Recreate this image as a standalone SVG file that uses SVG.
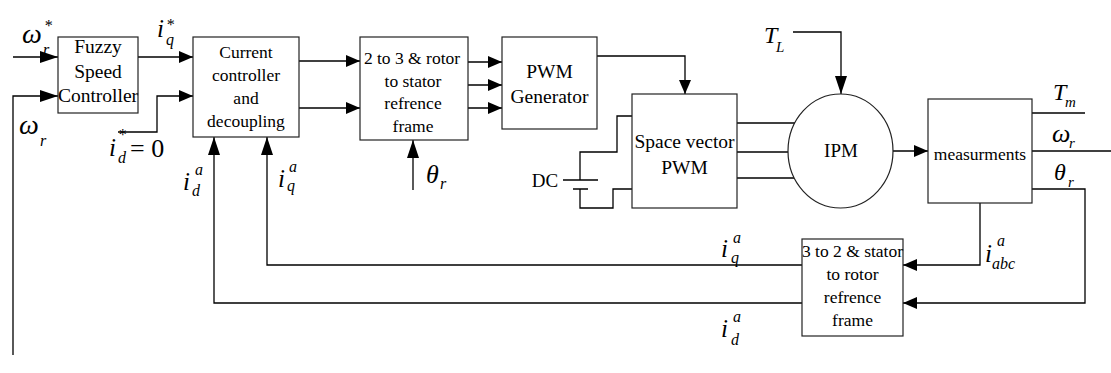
<svg xmlns="http://www.w3.org/2000/svg" width="1111" height="373" viewBox="0 0 1111 373">
<style>
.box{fill:#fff;stroke:#222;stroke-width:1.2}
.ln{fill:none;stroke:#000;stroke-width:1.3}
text{font-family:'Liberation Serif','Times New Roman',serif;fill:#000}
.t{text-anchor:middle}
.m{font-style:italic}
.s{font-size:16px}
</style>
<defs>
<marker id="ah" markerUnits="userSpaceOnUse" markerWidth="14" markerHeight="12" refX="14" refY="6" orient="auto"><path d="M0,0 L14,6 L0,12 z" fill="#000"/></marker>
<marker id="ahl" markerUnits="userSpaceOnUse" markerWidth="18" markerHeight="12" refX="18" refY="6" orient="auto"><path d="M0,0 L18,6 L0,12 z" fill="#000"/></marker>
</defs>
<rect width="1111" height="373" fill="#fff"/>
<g id="connectors">
<path class="ln" d="M13,57 H58" marker-end="url(#ahl)"/>
<path class="ln" d="M13,355 V96 H58" marker-end="url(#ahl)"/>
<path class="ln" d="M138,57 H193" marker-end="url(#ah)"/>
<path class="ln" d="M118,132 H157 V96 H193" marker-end="url(#ah)"/>
<path class="ln" d="M299,61 H360" marker-end="url(#ah)"/>
<path class="ln" d="M299,108 H360" marker-end="url(#ah)"/>
<path class="ln" d="M468,62 H502" marker-end="url(#ah)"/>
<path class="ln" d="M468,85 H502" marker-end="url(#ah)"/>
<path class="ln" d="M468,108 H502" marker-end="url(#ah)"/>
<path class="ln" d="M597,56 H685 V94" marker-end="url(#ah)"/>
<path class="ln" d="M413,190 V140" marker-end="url(#ahl)"/>
<path class="ln" d="M737,123 H795"/>
<path class="ln" d="M737,152 H788"/>
<path class="ln" d="M737,178 H794"/>
<path class="ln" d="M793,32 H841 V94" marker-end="url(#ahl)"/>
<path class="ln" d="M893,151 H928" marker-end="url(#ah)"/>
<path class="ln" d="M1032,113 H1085"/>
<path class="ln" d="M1032,151 H1111"/>
<path class="ln" d="M1032,189 H1085 V303 H903" marker-end="url(#ah)"/>
<path class="ln" d="M980,203 V265 H903" marker-end="url(#ah)"/>
<path class="ln" d="M802,265 H267 V137" marker-end="url(#ahl)"/>
<path class="ln" d="M802,303 H214 V137" marker-end="url(#ahl)"/>
</g>
<g id="dc-source">
<path class="ln" d="M563,180 H598 M573,189 H588"/>
<path class="ln" d="M580,180 V152 H617 V116 H632"/>
<path class="ln" d="M580,189 V208 H613 V189 H632"/>
<text class="t" x="545" y="187" font-size="19">DC</text>
</g>
<g id="fuzzy">
<rect class="box" x="58" y="37" width="80" height="76"/>
<text class="t" x="98" y="53" font-size="19.5">Fuzzy</text>
<text class="t" x="98" y="78" font-size="19.5">Speed</text>
<text class="t" x="98" y="102" font-size="19.5">Controller</text>
</g>
<g id="current">
<rect class="box" x="193" y="37" width="106" height="100"/>
<text class="t" x="246" y="58" font-size="17.5">Current</text>
<text class="t" x="246" y="81" font-size="17.5">controller</text>
<text class="t" x="246" y="104" font-size="17.5">and</text>
<text class="t" x="246" y="127" font-size="17.5">decoupling</text>
</g>
<g id="two-to-three">
<rect class="box" x="360" y="37" width="108" height="103"/>
<text class="t" x="412" y="64" font-size="17.5">2 to 3 &amp; rotor</text>
<text class="t" x="413" y="87" font-size="17.5">to stator</text>
<text class="t" x="413" y="109" font-size="17.5">refrence</text>
<text class="t" x="413" y="132" font-size="17.5">frame</text>
</g>
<g id="pwm">
<rect class="box" x="502" y="37" width="95" height="92"/>
<text class="t" x="549.5" y="78" font-size="19.5">PWM</text>
<text class="t" x="549.5" y="103" font-size="19.5">Generator</text>
</g>
<g id="svpwm">
<rect class="box" x="632" y="94" width="105" height="114"/>
<text class="t" x="684.5" y="148" font-size="19.5">Space vector</text>
<text class="t" x="684.5" y="174" font-size="19.5">PWM</text>
</g>
<g id="ipm">
<ellipse class="box" cx="840.5" cy="151" rx="52.5" ry="57"/>
<text class="t" x="841" y="157" font-size="19">IPM</text>
</g>
<g id="measurements">
<rect class="box" x="928" y="99" width="104" height="104"/>
<text class="t" x="980" y="160" font-size="17.5">measurments</text>
</g>
<g id="three-to-two">
<rect class="box" x="802" y="239" width="101" height="97"/>
<text class="t" x="852.5" y="257" font-size="17.5">3 to 2 &amp; stator</text>
<text class="t" x="852.5" y="280" font-size="17.5">to rotor</text>
<text class="t" x="852.5" y="303" font-size="17.5">refrence</text>
<text class="t" x="852.5" y="326" font-size="17.5">frame</text>
</g>
<g id="labels">
<text class="m" x="22" y="43" font-size="28">ω</text><text class="m s" x="44" y="31">*</text><text class="m s" x="43" y="55">r</text>
<text class="m" x="157" y="37" font-size="25">i</text><text class="m s" x="166" y="30">*</text><text class="m s" x="166" y="45">q</text>
<text class="m" x="19" y="134" font-size="28">ω</text><text class="m s" x="40" y="146">r</text>
<text class="m" x="109" y="156" font-size="25">i</text><text class="m s" x="118" y="140">*</text><text class="m s" x="118" y="163">d</text><text x="130" y="157" font-size="26">= 0</text>
<text class="m" x="183" y="190" font-size="25">i</text><text class="m s" x="195" y="175">a</text><text class="m s" x="192" y="196">d</text>
<text class="m" x="278" y="187" font-size="25">i</text><text class="m s" x="289" y="172">a</text><text class="m s" x="287" y="191">q</text>
<text class="m" x="426" y="183" font-size="26">θ</text><text class="m s" x="440" y="189">r</text>
<text class="m" x="764" y="43" font-size="24">T</text><text class="m" x="776" y="52" font-size="15">L</text>
<text class="m" x="1053" y="100" font-size="24">T</text><text class="m" x="1065" y="107" font-size="15">m</text>
<text class="m" x="1052" y="142" font-size="26">ω</text><text class="m" x="1069" y="148" font-size="15">r</text>
<text class="m" x="1054" y="180" font-size="24">θ</text><text class="m" x="1068" y="187" font-size="15">r</text>
<text class="m" x="721" y="257" font-size="25">i</text><text class="m s" x="733" y="243">a</text><text class="m s" x="731" y="263">q</text>
<text class="m" x="721" y="337" font-size="25">i</text><text class="m s" x="733" y="322">a</text><text class="m s" x="731" y="345">d</text>
<text class="m" x="985" y="262" font-size="25">i</text><text class="m s" x="997" y="246">a</text><text class="m s" x="992" y="269">abc</text>
</g>
</svg>
